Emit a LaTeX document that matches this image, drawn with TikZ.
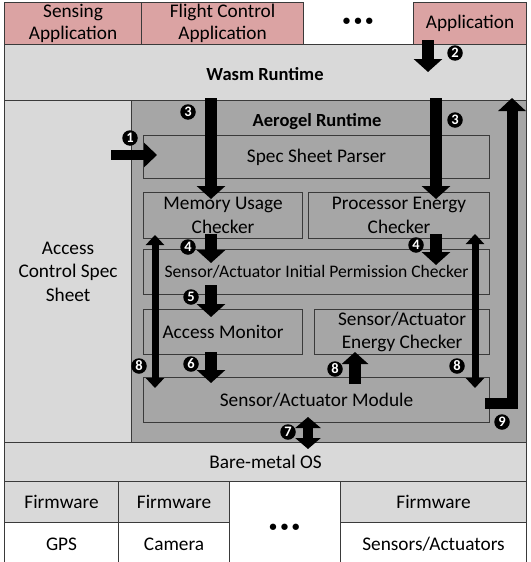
\documentclass[tikz,border=0pt]{standalone}
\usepackage{fontspec}
\setmainfont{Carlito}
\usetikzlibrary{arrows.meta,calc}
\definecolor{pinkapp}{HTML}{DBA3A3}
\definecolor{lgray}{HTML}{D9D9D9}
\definecolor{dgray}{HTML}{A6A6A6}
\definecolor{edge}{HTML}{3A3A3A}
\begin{document}
\begin{tikzpicture}[x=1pt,y=-1pt,
  box/.style={draw=edge, line width=1.1pt, inner sep=0pt, align=center,
    anchor=north west, font=\fontsize{19.3}{23.5}\selectfont, text=black},
  sz/.style 2 args={minimum width=#1pt, minimum height=#2pt},
  appbox/.style={box, fill=pinkapp, font=\fontsize{19.3}{21.5}\selectfont},
  bar/.style={line width=12pt, -{Triangle[width=28pt,length=13pt]}, black},
  dbar/.style={line width=10pt, {Triangle[width=25pt,length=11pt]}-{Triangle[width=25pt,length=11pt]}, black},
  thin/.style={line width=7pt, {Triangle[width=18pt,length=10pt]}-{Triangle[width=18pt,length=10pt]}, black},
  num/.style={circle, fill=black, text=white, inner sep=0pt, minimum size=15.5pt,
    font=\bfseries\fontsize{14.5}{14.5}\selectfont},
  title/.style={font=\bfseries\fontsize{18.5}{20}\selectfont},
  dots/.style={font=\bfseries\fontsize{15}{15}\selectfont}]
\useasboundingbox (0,0) rectangle (530,562);
\fill[white] (0,0) rectangle (530,562);
% applications
\node[appbox, sz={137}{42}] (sens) at (4,2) {Sensing\\Application};
\node[appbox, sz={162}{42}] (flight) at (141,2) {Flight Control\\Application};
\node[dots] (dotstop) at (358,22) {\textbullet\hspace{4pt}\textbullet\hspace{4pt}\textbullet};
\node[appbox, sz={113}{42}] (app) at (413,2) {Application};
% wasm
\node[box, sz={522}{56}, fill=lgray] (wasm) at (4,44) {};
\node[title] (wasmt) at (265,74) {Wasm Runtime};
% access control spec sheet
\node[box, sz={127}{342}, fill=lgray] (acs) at (4,100) {Access\\Control Spec\\Sheet};
% aerogel
\node[box, sz={395}{342}, fill=dgray] (aero) at (131,100) {};
\node[title] (aerot) at (317,122) {Aerogel Runtime};
\node[box, sz={346}{43}] (spec) at (143,135) {Spec Sheet Parser};
\node[box, sz={159}{46}] (mem) at (143,192) {Memory Usage\\Checker};
\node[box, sz={181}{46}] (proc) at (308,192) {Processor Energy\\Checker};
\node[box, sz={346}{45}, font=\fontsize{17.6}{20}\selectfont] (init) at (143,249) {Sensor/Actuator Initial Permission Checker};
\node[box, sz={159}{45}] (mon) at (143,309) {Access Monitor};
\node[box, sz={175}{45}] (saec) at (314,309) {Sensor/Actuator\\Energy Checker};
\node[box, sz={346}{45}] (mod) at (143,377) {Sensor/Actuator Module};
% OS
\node[box, sz={522}{39}, fill=lgray] (os) at (4,442) {Bare-metal OS};
% firmware
\node[box, sz={114}{41}, fill=lgray] (fw1) at (4,481) {Firmware};
\node[box, sz={111}{41}, fill=lgray] (fw2) at (118,481) {Firmware};
\node[box, sz={111}{84}, fill=white] (dotsb) at (229,481) {};
\node[dots] (dotsbt) at (284.5,528) {\textbullet\hspace{4pt}\textbullet\hspace{4pt}\textbullet};
\node[box, sz={186}{41}, fill=lgray] (fw3) at (340,481) {Firmware};
\node[box, sz={114}{43}, fill=white] (gps) at (4,522) {GPS};
\node[box, sz={111}{43}, fill=white] (cam) at (118,522) {Camera};
\node[box, sz={186}{43}, fill=white] (sa) at (340,522) {Sensors/Actuators};
% arrow coordinates
\coordinate (a1s) at (111,155);  \coordinate (a1e) at (157,155);
\coordinate (a2s) at (428,40);   \coordinate (a2e) at (428,72);
\coordinate (a3ls) at (211,98);  \coordinate (a3le) at (211,199);
\coordinate (a3rs) at (436,98);  \coordinate (a3re) at (436,199);
\coordinate (a4ls) at (211,234); \coordinate (a4le) at (211,263);
\coordinate (a4rs) at (436,234); \coordinate (a4re) at (436,265);
\coordinate (a5s) at (211,285);  \coordinate (a5e) at (211,317);
\coordinate (a6s) at (211,352);  \coordinate (a6e) at (211,383);
\coordinate (a7s) at (308,417);  \coordinate (a7e) at (308,449);
\coordinate (a8ls) at (155,235); \coordinate (a8le) at (155,388);
\coordinate (a8ms) at (355,384); \coordinate (a8me) at (355,352);
\coordinate (a8rs) at (475,234); \coordinate (a8re) at (475,388);
\coordinate (a9s) at (485,403);  \coordinate (a9c) at (512,403); \coordinate (a9e) at (512,98);
% arrows
\draw[line width=10pt, -{Triangle[width=24pt,length=13pt]}] (a1s) -- (a1e);
\draw[bar] (a2s) -- (a2e);
\draw[bar] (a3ls) -- (a3le);
\draw[bar] (a3rs) -- (a3re);
\draw[bar] (a4ls) -- (a4le);
\draw[bar] (a4rs) -- (a4re);
\draw[bar] (a5s) -- (a5e);
\draw[bar] (a6s) -- (a6e);
\draw[dbar] (a7s) -- (a7e);
\draw[thin] (a8ls) -- (a8le);
\draw[line width=12pt, -{Triangle[width=26pt,length=12pt]}] (a8ms) -- (a8me);
\draw[thin] (a8rs) -- (a8re);
\draw[line width=11pt, -{Triangle[width=27pt,length=13pt]}, line join=miter] (a9s) -- (a9c) -- (a9e);
% numbers
\node[num] (n1) at (130,138) {1};
\node[num] (n2) at (455,53) {2};
\node[num] (n3l) at (188,112) {3};
\node[num] (n3r) at (455,120) {3};
\node[num] (n4l) at (188,247) {4};
\node[num] (n4r) at (416,245) {4};
\node[num] (n5) at (191,297) {5};
\node[num] (n6) at (191,364) {6};
\node[num] (n7) at (288,432) {7};
\node[num] (n8l) at (139,366) {8};
\node[num] (n8m) at (335,369) {8};
\node[num] (n8r) at (457,366) {8};
\node[num] (n9) at (502,422) {9};
\end{tikzpicture}
\end{document}
